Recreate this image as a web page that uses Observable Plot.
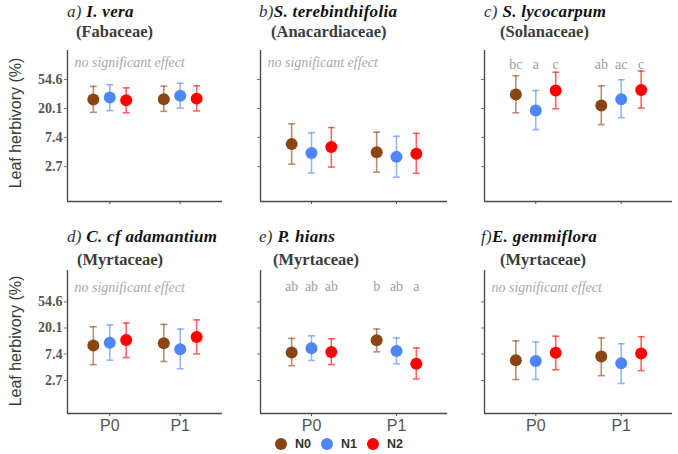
<!DOCTYPE html>
<html><head><meta charset="utf-8">
<script src="https://cdn.jsdelivr.net/npm/d3@7"></script>
<script src="https://cdn.jsdelivr.net/npm/@observablehq/plot@0.6"></script>
<style>
body{margin:0;background:#fff;}
#fig{position:relative;width:678px;height:454px;overflow:hidden;font-family:"Liberation Serif",serif;background:#fff;}
.panel{position:absolute;}
.title{position:absolute;font-size:17px;line-height:1;white-space:nowrap;color:#333;letter-spacing:0.3px;}
.title .tag{font-style:italic;}
.title .sp{font-style:italic;font-weight:bold;color:#111;}
.family{position:absolute;font-size:16.5px;line-height:1;font-weight:bold;color:#3c3c3c;white-space:nowrap;}
.ylab{position:absolute;width:170px;height:20px;line-height:20px;text-align:center;font-family:"Liberation Sans",sans-serif;font-size:16px;color:#3a3a3a;transform:rotate(-90deg);white-space:nowrap;}
#legend{position:absolute;left:0;top:436px;width:678px;height:16px;display:flex;justify-content:center;align-items:center;font-family:"Liberation Sans",sans-serif;font-size:12.5px;font-weight:bold;color:#333;}
#legend .item{display:flex;align-items:center;margin:0 5px 0 5px;}
#legend .sw{width:12px;height:12px;border-radius:50%;margin-right:8px;}
</style></head>
<body>
<div id="fig"></div>
<script>
// ---- data ----
const periods = ["P0", "P1"];
const levels = ["N0", "N1", "N2"];
const levelColors = ["#8b4513", "#4f86f7", "#ff0000"];
const panelTags = ["a)", "b)", "c)", "d)", "e)", "f)"];
const species = ["I. vera", "S. terebinthifolia", "S. lycocarpum", "C. cf adamantium", "P. hians", "E. gemmiflora"];
const families = ["(Fabaceae)", "(Anacardiaceae)", "(Solanaceae)", "(Myrtaceae)", "(Myrtaceae)", "(Myrtaceae)"];
const yTicks = [2.7, 7.4, 20.1, 54.6];
// order within each panel: P0-N0, P0-N1, P0-N2, P1-N0, P1-N1, P1-N2
const means = [
  [27.4, 29.4, 26.6, 27.7, 31.2, 28.2],
  [5.87, 4.31, 5.31, 4.44, 3.78, 4.22],
  [32.5, 18.7, 37.3, 22.2, 27.7, 38.1],
  [10.3, 11.4, 12.7, 11.2, 8.94, 14.2],
  [7.85, 9.30, 8.00, 12.6, 8.33, 5.10],
  [5.87, 5.70, 7.77, 6.75, 5.21, 7.61]
];
const lows = [
  [17.6, 18.7, 17.3, 18.2, 20.3, 18.4],
  [2.94, 2.16, 2.66, 2.23, 1.88, 2.14],
  [17.3, 9.68, 19.9, 11.5, 14.6, 20.3],
  [4.95, 5.87, 6.49, 5.58, 4.22, 7.46],
  [4.76, 5.81, 4.95, 8.08, 5.10, 2.86],
  [2.80, 2.80, 4.06, 3.25, 2.41, 3.94]
];
const highs = [
  [43.0, 45.6, 40.9, 43.4, 47.9, 43.8],
  [11.8, 8.67, 10.4, 8.85, 7.69, 8.50],
  [62.2, 37.3, 70.1, 43.8, 54.1, 73.0],
  [21.1, 22.6, 24.3, 23.1, 19.3, 27.4],
  [13.5, 14.9, 13.3, 19.3, 13.7, 9.39],
  [12.3, 11.8, 14.7, 13.7, 11.0, 14.4]
];
const groupLetters = [
  null, null,
  ["bc", "a", "c", "ab", "ac", "c"],
  null,
  ["ab", "ab", "ab", "b", "ab", "a"],
  null
];
const noteText = "no significant effect";
const yLabel = "Leaf herbivory (%)";

// ---- layout ----
const fig = document.getElementById("fig");
const colW = 226, rowH = 220, svgH = 215;
const mLeft = [67, 34, 32], mRight = [4, 5, 6];
const mBottom = [14, 22];
const yDomains = [[Math.exp(-0.21), Math.exp(5.0)], [Math.exp(-0.27), Math.exp(5.2)]];
const xDomain = [0.4, 2.6];
const dodge = 0.7 / 3;
const titleLeft = [67, 259, 484, 67, 259, 481];
const famLeft = [76, 271, 500, 77, 273, 500];
const noteDy = [7, 12], letterDy = [9, 11];

const capSymbol = {draw(ctx, size) { const w = Math.sqrt(size / Math.PI); ctx.moveTo(-w, 0); ctx.lineTo(w, 0); }};

species.forEach((sp, i) => {
  const col = i % 3, row = Math.floor(i / 3);
  const rows = [];
  periods.forEach((p, pi) => levels.forEach((n, ni) => {
    const k = pi * 3 + ni;
    rows.push({period: p, level: n, x: pi + 1 + (ni - 1) * dodge,
      mean: means[i][k], lo: lows[i][k], hi: highs[i][k],
      letter: groupLetters[i] ? groupLetters[i][k] : ""});
  }));
  const yDom = yDomains[row];
  const marks = [
    Plot.ruleX([xDomain[0]], {stroke: "#4a4a4a", strokeWidth: 1.4}),
    Plot.ruleY([yDom[0]], {stroke: "#4a4a4a", strokeWidth: 1.4}),
    Plot.axisY({ticks: yTicks, tickSize: 3, label: null, tickFormat: () => "", color: "#777"}),
    Plot.axisX({ticks: [1, 2], tickSize: 3, tickPadding: 3, label: null,
      tickFormat: row === 1 ? (d => periods[d - 1]) : (() => ""),
      color: "#555", fontSize: 16, fontFamily: "Liberation Sans"}),
    Plot.ruleX(rows, {x: "x", y1: "lo", y2: "hi", stroke: "level", strokeOpacity: 0.6, strokeWidth: 1.6}),
    Plot.dot(rows, {x: "x", y: "lo", symbol: capSymbol, r: 3.5, stroke: "level", strokeOpacity: 0.6, strokeWidth: 1.6, fill: "none"}),
    Plot.dot(rows, {x: "x", y: "hi", symbol: capSymbol, r: 3.5, stroke: "level", strokeOpacity: 0.6, strokeWidth: 1.6, fill: "none"}),
    Plot.dot(rows, {x: "x", y: "mean", r: 6, fill: "level", stroke: "none"})
  ];
  if (col === 0) {
    marks.push(Plot.text(yTicks, {y: d => d, text: d => d.toFixed(1), frameAnchor: "left", textAnchor: "end", dx: -5,
      fontSize: 14, fontWeight: "bold", fill: "#555", fontFamily: "Liberation Serif"}));
  }
  if (groupLetters[i]) {
    marks.push(Plot.text(rows, {x: "x", text: "letter", frameAnchor: "top", dy: letterDy[row],
      fontSize: 14, fill: "#9e9e9e", fontFamily: "Liberation Serif", fontWeight: "normal"}));
  } else {
    marks.push(Plot.text([noteText], {text: d => d, frameAnchor: "top-left", textAnchor: "start", dx: 7, dy: noteDy[row],
      fontSize: 14, fontStyle: "italic", fill: "#a8a8a8", fontFamily: "Liberation Serif", fontWeight: "normal"}));
  }
  const svg = Plot.plot({
    width: colW, height: svgH,
    marginLeft: mLeft[col], marginRight: mRight[col], marginTop: 50, marginBottom: mBottom[row],
    x: {domain: xDomain},
    y: {type: "log", domain: yDom},
    color: {domain: levels, range: levelColors},
    style: {background: "transparent", overflow: "visible", fontFamily: "Liberation Serif", fontSize: "14px"},
    marks
  });
  const wrap = document.createElement("div");
  wrap.className = "panel";
  wrap.style.left = (col * colW) + "px";
  wrap.style.top = (row * rowH) + "px";
  wrap.appendChild(svg);
  fig.appendChild(wrap);
});

species.forEach((sp, i) => {
  const row = Math.floor(i / 3);
  const t = document.createElement("div");
  t.className = "title";
  const sep = (i === 1 || i === 5) ? "" : " ";
  t.innerHTML = `<span class="tag">${panelTags[i]}</span>${sep}<span class="sp">${sp}</span>`;
  t.style.left = titleLeft[i] + "px";
  t.style.top = (row === 0 ? 3 : 228) + "px";
  fig.appendChild(t);
  const f = document.createElement("div");
  f.className = "family";
  f.textContent = families[i];
  f.style.left = famLeft[i] + "px";
  f.style.top = (row === 0 ? 24 : 252) + "px";
  fig.appendChild(f);
});

[123, 341].forEach(cy => {
  const y = document.createElement("div");
  y.className = "ylab";
  y.textContent = yLabel;
  y.style.left = (16 - 85) + "px";
  y.style.top = (cy - 10) + "px";
  fig.appendChild(y);
});

const lg = document.createElement("div");
lg.id = "legend";
levels.forEach((n, k) => {
  const it = document.createElement("div");
  it.className = "item";
  it.innerHTML = `<span class="sw" style="background:${levelColors[k]}"></span><span>${n}</span>`;
  lg.appendChild(it);
});
fig.appendChild(lg);
</script>
</body></html>
